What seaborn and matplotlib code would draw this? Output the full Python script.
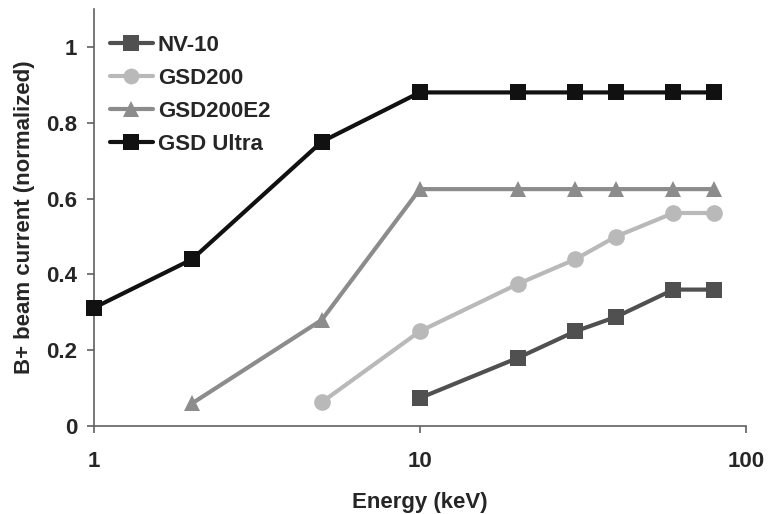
import matplotlib
matplotlib.use("Agg")
import matplotlib.pyplot as plt
from matplotlib.ticker import FixedLocator, NullLocator, FuncFormatter
import seaborn as sns
import pandas as pd

# Beam current vs. energy for each source
series_names = ["NV-10", "GSD200", "GSD200E2", "GSD Ultra"]

nv10_energy = [10, 20, 30, 40, 60, 80]
nv10_current = [0.074, 0.18, 0.25, 0.288, 0.36, 0.36]

gsd200_energy = [5, 10, 20, 30, 40, 60, 80]
gsd200_current = [0.063, 0.25, 0.375, 0.44, 0.50, 0.562, 0.562]

gsd200e2_energy = [2, 5, 10, 20, 30, 40, 60, 80]
gsd200e2_current = [0.06, 0.28, 0.625, 0.625, 0.625, 0.625, 0.625, 0.625]

ultra_energy = [1, 2, 5, 10, 20, 30, 40, 60, 80]
ultra_current = [0.312, 0.44, 0.75, 0.88, 0.88, 0.88, 0.88, 0.88, 0.88]

x_ticks = [1, 10, 100]
y_ticks = [0, 0.2, 0.4, 0.6, 0.8, 1.0]

frames = []
for name, xs, ys in zip(series_names,
                        [nv10_energy, gsd200_energy, gsd200e2_energy, ultra_energy],
                        [nv10_current, gsd200_current, gsd200e2_current, ultra_current]):
    frames.append(pd.DataFrame({"Energy": xs, "Current": ys, "Source": name}))
df = pd.concat(frames, ignore_index=True)

colors = {"NV-10": "#505050", "GSD200": "#b9b9b9",
          "GSD200E2": "#8c8c8c", "GSD Ultra": "#111111"}
markers = {"NV-10": "s", "GSD200": "o", "GSD200E2": "^", "GSD Ultra": "s"}
dashes = {k: "" for k in series_names}

sns.set_style("white")
plt.rcParams["font.family"] = ["Liberation Sans", "DejaVu Sans"]
plt.rcParams["font.weight"] = "bold"

FS = 16

fig = plt.figure(figsize=(7.68, 5.14), dpi=100)
ax = fig.add_axes([0.1224, 0.171, 0.8486, 0.8115])

sns.lineplot(data=df, x="Energy", y="Current", hue="Source", style="Source",
             hue_order=series_names, style_order=series_names,
             palette=colors, markers=markers, dashes=dashes,
             markersize=12, linewidth=3, markeredgewidth=0, ax=ax)

# let markers sitting on the axis edge draw in full
for line in ax.lines:
    line.set_clip_on(False)
    line.set_zorder(3)

ax.set_xscale("log")
ax.set_xlim(1, 100)
ax.set_ylim(0, 1.1)
ax.xaxis.set_major_locator(FixedLocator(x_ticks))
ax.xaxis.set_minor_locator(NullLocator())
ax.xaxis.set_major_formatter(FuncFormatter(lambda v, p: f"{v:g}"))
ax.set_yticks(y_ticks)
ax.yaxis.set_major_formatter(FuncFormatter(lambda v, p: f"{v:g}"))

for side in ["top", "right"]:
    ax.spines[side].set_visible(False)
for side in ["left", "bottom"]:
    ax.spines[side].set_color("#606060")
    ax.spines[side].set_linewidth(1.2)
    ax.spines[side].set_zorder(2)

ax.tick_params(axis="both", direction="out", length=5, width=1.2,
               color="#606060", labelsize=FS)
ax.tick_params(axis="y", pad=7)
ax.tick_params(axis="x", pad=13)
ax.tick_params(left=True, bottom=True)
for lab in ax.get_xticklabels() + ax.get_yticklabels():
    lab.set_fontweight("bold")

ax.set_xlabel("Energy (keV)", fontsize=FS, fontweight="bold", labelpad=14)
ax.set_ylabel("B+ beam current (normalized)", fontsize=FS, fontweight="bold", labelpad=8)

leg = ax.legend(loc="upper left", bbox_to_anchor=(0.0, 0.975), frameon=False,
                fontsize=FS, handlelength=1.95, handletextpad=0.22,
                labelspacing=0.54, borderaxespad=0.3, markerscale=0.95)
for t in leg.get_texts():
    t.set_fontweight("bold")

fig.savefig("out.png", dpi=100)
